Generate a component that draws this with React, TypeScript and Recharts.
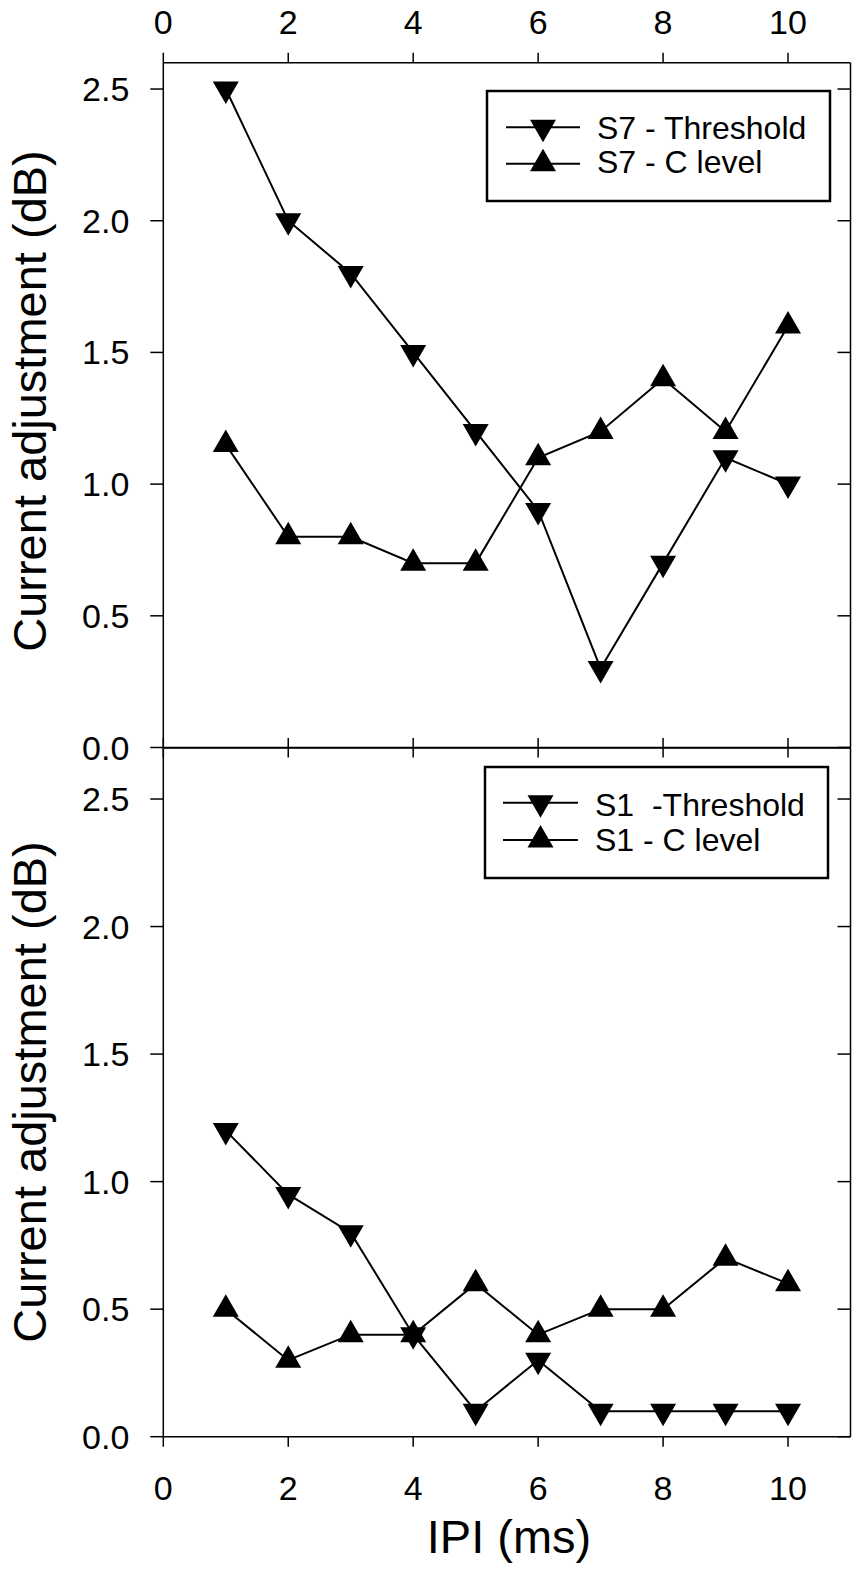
import React from 'react';
import { LineChart, Line, XAxis, YAxis } from 'recharts';

// IPI values (ms)
const ipi = [1, 2, 3, 4, 5, 6, 7, 8, 9, 10];

// upper panel (S7)
const s7Threshold = [2.5, 2.0, 1.8, 1.5, 1.2, 0.9, 0.3, 0.7, 1.1, 1.0];
const s7CLevel = [1.15, 0.8, 0.8, 0.7, 0.7, 1.1, 1.2, 1.4, 1.2, 1.6];

// lower panel (S1)
const s1Threshold = [1.2, 0.95, 0.8, 0.4, 0.1, 0.3, 0.1, 0.1, 0.1, 0.1];
const s1CLevel = [0.5, 0.3, 0.4, 0.4, 0.6, 0.4, 0.5, 0.5, 0.7, 0.6];

const xTicks = [0, 2, 4, 6, 8, 10];
const yTicks = [0, 0.5, 1, 1.5, 2, 2.5];

const topLegend = ['S7 - Threshold', 'S7 - C level'];
const bottomLegend = ['S1  -Threshold', 'S1 - C level'];

const FONT = '"Liberation Sans", Arial, sans-serif';
const ink = { stroke: '#000', strokeWidth: 1.5 };

const s7Data = ipi.map((x, i) => ({ x, thr: s7Threshold[i], cl: s7CLevel[i] }));
const s1Data = ipi.map((x, i) => ({ x, thr: s1Threshold[i], cl: s1CLevel[i] }));

// filled triangles, centred on their centroid
const downPath = (cx: number, cy: number) =>
  `M${cx - 13},${cy - 7.5} L${cx + 13},${cy - 7.5} L${cx},${cy + 15} Z`;
const upPath = (cx: number, cy: number) =>
  `M${cx - 13},${cy + 7.5} L${cx + 13},${cy + 7.5} L${cx},${cy - 15} Z`;

const DownDot = (p: any) =>
  p.cx == null ? null : <path key={p.key} d={downPath(p.cx, p.cy)} fill="#000" />;
const UpDot = (p: any) =>
  p.cx == null ? null : <path key={p.key} d={upPath(p.cx, p.cy)} fill="#000" />;

const tickText = { fill: '#000', fontSize: 34 };
const blank = () => '';

function Panel({
  data,
  height,
  topH,
  bottomH,
  yMax,
  showTop,
  showBottom,
}: {
  data: any[];
  height: number;
  topH: number;
  bottomH: number;
  yMax: number;
  showTop: boolean;
  showBottom: boolean;
}) {
  return (
    <LineChart width={855} height={height} data={data} margin={{ top: 0, right: 4.5, bottom: 0, left: 0 }}>
      <XAxis
        xAxisId="t"
        orientation="top"
        type="number"
        dataKey="x"
        domain={[0, 11]}
        ticks={xTicks}
        allowDataOverflow
        height={topH}
        tickSize={10}
        tickMargin={19}
        axisLine={ink}
        tickLine={ink}
        tick={tickText}
        tickFormatter={showTop ? undefined : blank}
      />
      <XAxis
        xAxisId="b"
        orientation="bottom"
        type="number"
        dataKey="x"
        domain={[0, 11]}
        ticks={xTicks}
        allowDataOverflow
        height={bottomH}
        tickSize={10}
        tickMargin={29}
        axisLine={ink}
        tickLine={ink}
        tick={tickText}
        tickFormatter={showBottom ? undefined : blank}
      />
      <YAxis
        yAxisId="l"
        orientation="left"
        type="number"
        domain={[0, yMax]}
        ticks={yTicks}
        allowDataOverflow
        width={163.3}
        tickSize={13}
        tickMargin={21}
        axisLine={ink}
        tickLine={ink}
        tick={tickText}
        tickFormatter={(v: number) => v.toFixed(1)}
      />
      <YAxis
        yAxisId="r"
        orientation="right"
        mirror
        type="number"
        domain={[0, yMax]}
        ticks={yTicks}
        allowDataOverflow
        width={20}
        tickSize={13}
        axisLine={ink}
        tickLine={ink}
        tickFormatter={blank}
      />
      <Line
        xAxisId="t"
        yAxisId="l"
        dataKey="thr"
        stroke="#000"
        strokeWidth={2}
        dot={DownDot}
        activeDot={false}
        isAnimationActive={false}
      />
      <Line
        xAxisId="t"
        yAxisId="l"
        dataKey="cl"
        stroke="#000"
        strokeWidth={2}
        dot={UpDot}
        activeDot={false}
        isAnimationActive={false}
      />
    </LineChart>
  );
}

function LegendBox({
  x, y, w, h, labels, rowY, baseY, lineX1, lineX2, textX,
}: {
  x: number; y: number; w: number; h: number; labels: string[];
  rowY: number[]; baseY: number[]; lineX1: number; lineX2: number; textX: number;
}) {
  const mx = (lineX1 + lineX2) / 2;
  return (
    <g>
      <rect x={x} y={y} width={w} height={h} fill="#fff" stroke="#000" strokeWidth={2.5} />
      {labels.map((lab, i) => (
        <g key={lab}>
          <line x1={lineX1} x2={lineX2} y1={rowY[i]} y2={rowY[i]} stroke="#000" strokeWidth={2} />
          <path d={i === 0 ? downPath(mx, rowY[i]) : upPath(mx, rowY[i])} fill="#000" />
          <text x={textX} y={baseY[i]} fontSize={32} fill="#000" style={{ whiteSpace: 'pre' }}>
            {lab}
          </text>
        </g>
      ))}
    </g>
  );
}

export default function App() {
  return (
    <div
      style={{
        position: 'absolute',
        left: 0,
        top: 0,
        width: 855,
        height: 1570,
        background: '#fff',
        fontFamily: FONT,
        overflow: 'hidden',
      }}
    >
      <div style={{ position: 'absolute', left: 0, top: 0 }}>
        <Panel data={s7Data} height={800} topH={62.7} bottomH={52.5} yMax={2.6} showTop showBottom={false} />
      </div>
      <div style={{ position: 'absolute', left: 0, top: 700 }}>
        <Panel data={s1Data} height={870} topH={48} bottomH={133.3} yMax={2.7} showTop={false} showBottom />
      </div>
      <svg
        width={855}
        height={1570}
        style={{ position: 'absolute', left: 0, top: 0, pointerEvents: 'none', fontFamily: FONT }}
      >
        <LegendBox
          x={487} y={91} w={343} h={110}
          labels={topLegend}
          rowY={[127.3, 163.8]}
          baseY={[139, 172.5]}
          lineX1={506} lineX2={580} textX={597}
        />
        <LegendBox
          x={485} y={767} w={343} h={111}
          labels={bottomLegend}
          rowY={[802.7, 840]}
          baseY={[815.5, 850.5]}
          lineX1={503} lineX2={578} textX={595}
        />
        <text x={46} y={401} fontSize={47} fill="#000" textAnchor="middle" transform="rotate(-90, 46, 401)">
          Current adjustment (dB)
        </text>
        <text x={46} y={1092} fontSize={47} fill="#000" textAnchor="middle" transform="rotate(-90, 46, 1092)">
          Current adjustment (dB)
        </text>
        <text x={509} y={1553} fontSize={47} fill="#000" textAnchor="middle">
          IPI (ms)
        </text>
      </svg>
    </div>
  );
}
